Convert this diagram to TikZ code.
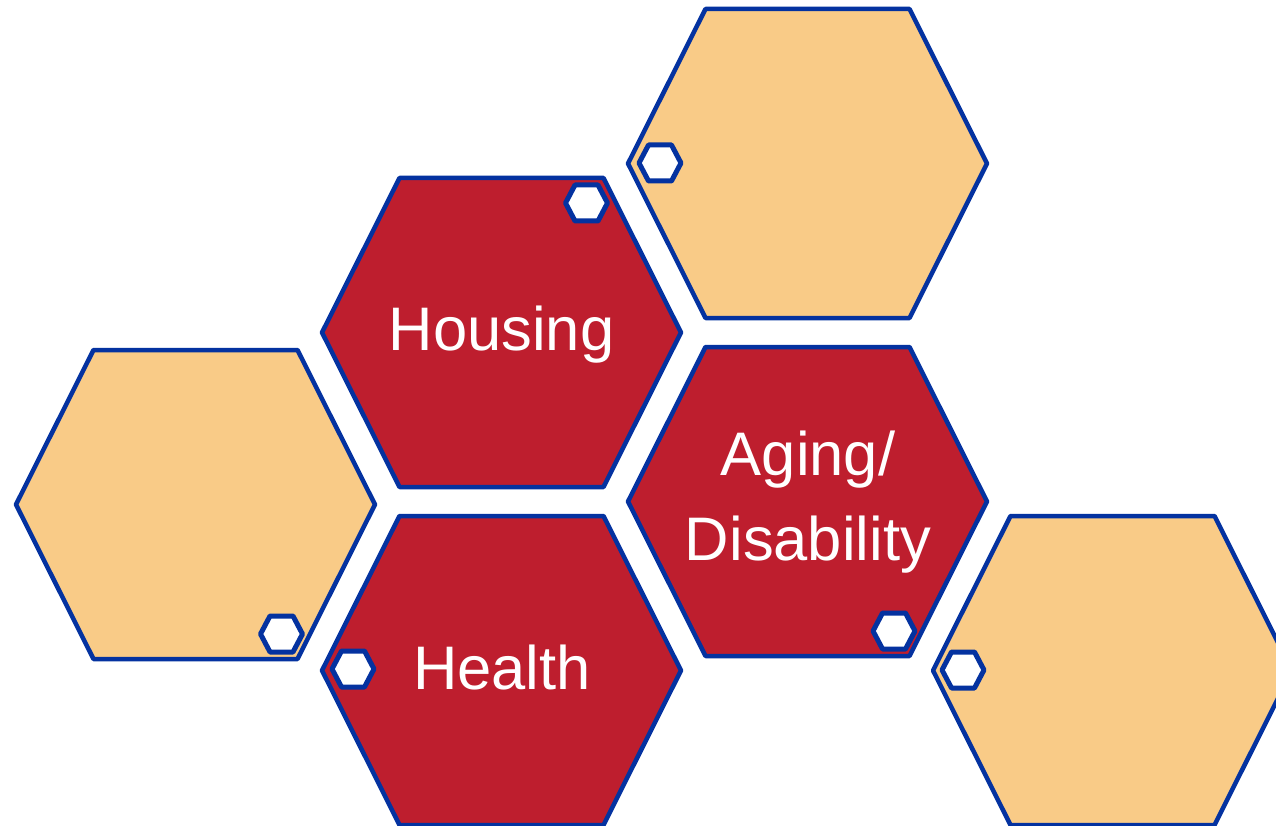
\documentclass[tikz,border=0pt]{standalone}
\usepackage{fontspec}
\setmainfont{Liberation Sans}
\definecolor{hexred}{RGB}{190,30,46}
\definecolor{hextan}{RGB}{249,203,135}
\definecolor{hexblue}{RGB}{4,50,160}
\tikzset{
  bighex/.pic={\path[pic actions] (-179.5,0) -- (-102,-154.5) -- (102,-154.5) -- (179.5,0) -- (102,154.5) -- (-102,154.5) -- cycle;},
  smallhex/.pic={\path[pic actions] (-21,0) -- (-11.5,-18) -- (11.5,-18) -- (21,0) -- (11.5,18) -- (-11.5,18) -- cycle;},
  tanhex/.style={draw=hexblue, fill=hextan, line width=4.5pt, line join=round},
  redhex/.style={draw=hexblue, fill=hexred, line width=4.5pt, line join=round},
  tinyhex/.style={draw=hexblue, fill=white, line width=5pt, line join=round},
  label/.style={text=white, font=\fontsize{61.5}{85}\selectfont, align=center, inner sep=0pt}
}
\begin{document}
\begin{tikzpicture}[x=1pt,y=-1pt]
\useasboundingbox (0,0) rectangle (1276,826);
\clip (0,0) rectangle (1276,826);
\pic[tanhex] (hexTR) at (807.5,163.5) {bighex};
\pic[redhex] (hexHousing) at (501.5,332.5) {bighex};
\pic[tanhex] (hexL) at (195.5,504.5) {bighex};
\pic[redhex] (hexHealth) at (501.5,670.5) {bighex};
\pic[redhex] (hexAging) at (807.5,501.5) {bighex};
\pic[tanhex] (hexR) at (1112.5,670.5) {bighex};
\pic[tinyhex] (s1) at (660,163) {smallhex};
\pic[tinyhex] (s2) at (586.5,203) {smallhex};
\pic[tinyhex] (s3) at (281.5,634) {smallhex};
\pic[tinyhex] (s4) at (353,669) {smallhex};
\pic[tinyhex] (s5) at (894,631) {smallhex};
\pic[tinyhex] (s6) at (963,670) {smallhex};
\node[label, anchor=base] (housing) at (501.5,350) {Housing};
\node[label, anchor=base] (health) at (502,689) {Health};
\node[label, anchor=base] (aging) at (808,475) {Aging/};
\node[label, anchor=base] (disability) at (808,560) {Disability};
\end{tikzpicture}
\end{document}
